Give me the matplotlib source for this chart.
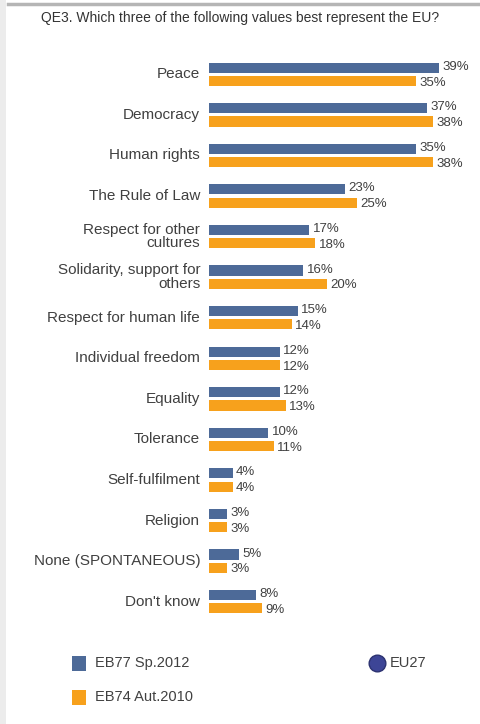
import numpy as np
import matplotlib
matplotlib.use("Agg")
import matplotlib.pyplot as plt
from matplotlib import font_manager
from matplotlib.patches import Rectangle
from matplotlib.lines import Line2D

BLUE = "#4D6A98"
ORANGE = "#F7A11C"
TEXT = "#404040"

categories = ["Peace", "Democracy", "Human rights", "The Rule of Law",
              "Respect for other\ncultures", "Solidarity, support for\nothers",
              "Respect for human life", "Individual freedom", "Equality",
              "Tolerance", "Self-fulfilment", "Religion",
              "None (SPONTANEOUS)", "Don't know"]
eb77 = [39, 37, 35, 23, 17, 16, 15, 12, 12, 10, 4, 3, 5, 8]
eb74 = [35, 38, 38, 25, 18, 20, 14, 12, 13, 11, 4, 3, 3, 9]

series_names = ["EB77 Sp.2012", "EB74 Aut.2010"]
title = "QE3. Which three of the following values best represent the EU?"

# condensed font if we have it
names = {f.name for f in font_manager.fontManager.ttflist}
if "Liberation Sans Narrow" in names:
    plt.rcParams['font.family'] = ['Liberation Sans Narrow', 'DejaVu Sans']
else:
    plt.rcParams['font.family'] = ['Liberation Sans', 'DejaVu Sans']


def main():
    fig = plt.figure(figsize=(4.81, 7.24), dpi=100)
    fig.patch.set_facecolor("white")

    # page frame bits: left grey strip and top rule
    fig.add_artist(Rectangle((0, 0), 6 / 481, 1, transform=fig.transFigure,
                             color="#ececec", lw=0))
    fig.add_artist(Line2D([8 / 481, 1], [1 - 4 / 724, 1 - 4 / 724],
                          transform=fig.transFigure, color="#b5b5b5", lw=2.5))

    ax = fig.add_axes([209 / 481, 1 - 622 / 724, 272 / 481, 568 / 724])
    y = np.arange(len(categories))
    h = 0.25
    off = 0.165
    ax.barh(y - off, eb77, height=h, color=BLUE)
    ax.barh(y + off, eb74, height=h, color=ORANGE)

    ax.set_xlim(0, 46.1)
    ax.set_ylim(len(categories) - 0.5, -0.5)
    ax.axis("off")

    for i, (a, b) in enumerate(zip(eb77, eb74)):
        ax.text(a + 0.6, i - off - 0.02, f"{a}%", ha="left", va="center",
                fontsize=9.5, color=TEXT)
        ax.text(b + 0.6, i + off + 0.04, f"{b}%", ha="left", va="center",
                fontsize=9.5, color=TEXT)
        ax.text(-1.5, i, categories[i], ha="right", va="center",
                fontsize=11, color=TEXT, linespacing=0.95)

    fig.text(240 / 481, 1 - 18 / 724, title, ha="center", va="center",
             fontsize=10, color="#333333")

    # legend
    fig.add_artist(Rectangle((72 / 481, 1 - 671 / 724), 14 / 481, 15 / 724,
                             transform=fig.transFigure, color=BLUE, lw=0))
    fig.add_artist(Rectangle((72 / 481, 1 - 705 / 724), 14 / 481, 15 / 724,
                             transform=fig.transFigure, color=ORANGE, lw=0))
    fig.text(95 / 481, 1 - 663 / 724, series_names[0], ha="left", va="center",
             fontsize=10.5, color=TEXT)
    fig.text(95 / 481, 1 - 697 / 724, series_names[1], ha="left", va="center",
             fontsize=10.5, color=TEXT)
    fig.add_artist(Line2D([377 / 481], [1 - 663 / 724], transform=fig.transFigure,
                          marker="o", markersize=12, color="#3d4596",
                          markeredgecolor="#2c3270", lw=0))
    fig.text(390 / 481, 1 - 663 / 724, "EU27", ha="left", va="center",
             fontsize=10.5, color=TEXT)

    fig.savefig("out.png", dpi=100, facecolor="white")


if __name__ == "__main__":
    main()
